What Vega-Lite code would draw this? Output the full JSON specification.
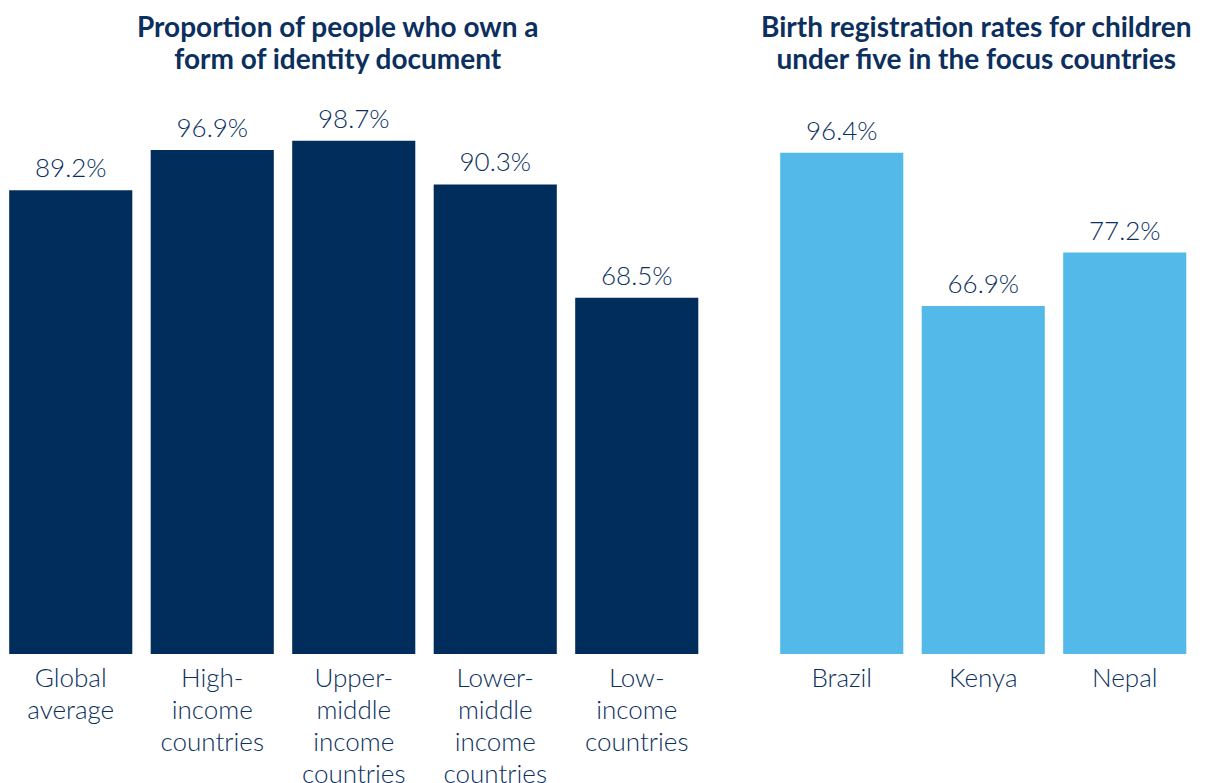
{
  "$schema": "https://vega.github.io/schema/vega-lite/v6.json",
  "padding": {"left": 0, "top": 15, "right": 0, "bottom": 0},
  "background": "white",
  "spacing": 63,
  "bounds": "flush",
  "config": {
    "view": {"stroke": null},
    "font": "Lato",
    "title": {"font": "Lato", "fontSize": 28, "fontWeight": "bold", "color": "#0b2f5e", "lineHeight": 32, "anchor": "middle", "offset": -45},
    "axisX": {"domain": false, "ticks": false, "labelAngle": 0, "labelFont": "Lato", "labelFontSize": 26, "labelFontWeight": 300, "labelLineHeight": 32, "labelPadding": 11, "labelColor": "#0b2f5e", "title": null, "grid": false, "labelLimit": 300}
  },
  "datasets": {
    "identity": [
      {"group": "Global|average", "share": 0.892},
      {"group": "High-|income|countries", "share": 0.969},
      {"group": "Upper-|middle|income|countries", "share": 0.987},
      {"group": "Lower-|middle|income|countries", "share": 0.903},
      {"group": "Low-|income|countries", "share": 0.685}
    ],
    "birth": [
      {"group": "Brazil", "share": 0.964},
      {"group": "Kenya", "share": 0.669},
      {"group": "Nepal", "share": 0.772}
    ]
  },
  "hconcat": [
    {
      "data": {"name": "identity"},
      "width": 707.5,
      "height": 624,
      "title": {"text": ["Proportion of people who own a", "form of identity document"], "dx": -16},
      "encoding": {
        "x": {"field": "group", "type": "nominal", "sort": null, "scale": {"paddingInner": 0.13, "paddingOuter": 0.065}, "axis": {"labelExpr": "split(datum.label, '|')"}},
        "y": {"field": "share", "type": "quantitative", "scale": {"domain": [0, 1.2]}, "axis": null}
      },
      "layer": [
        {"mark": {"type": "bar", "color": "#002d5b"}},
        {"mark": {"type": "text", "baseline": "alphabetic", "dy": -13, "font": "Lato", "fontSize": 26, "fontWeight": 300, "color": "#0b2f5e"}, "encoding": {"text": {"field": "share", "type": "quantitative", "format": ".1%"}}}
      ]
    },
    {
      "data": {"name": "birth"},
      "width": 424.5,
      "height": 624,
      "title": {"text": ["Birth registration rates for children", "under five in the focus countries"], "dx": -7},
      "encoding": {
        "x": {"field": "group", "type": "nominal", "sort": null, "scale": {"paddingInner": 0.13, "paddingOuter": 0.065}},
        "y": {"field": "share", "type": "quantitative", "scale": {"domain": [0, 1.2]}, "axis": null}
      },
      "layer": [
        {"mark": {"type": "bar", "color": "#53b9e8"}},
        {"mark": {"type": "text", "baseline": "alphabetic", "dy": -13, "font": "Lato", "fontSize": 26, "fontWeight": 300, "color": "#0b2f5e"}, "encoding": {"text": {"field": "share", "type": "quantitative", "format": ".1%"}}}
      ]
    }
  ]
}
